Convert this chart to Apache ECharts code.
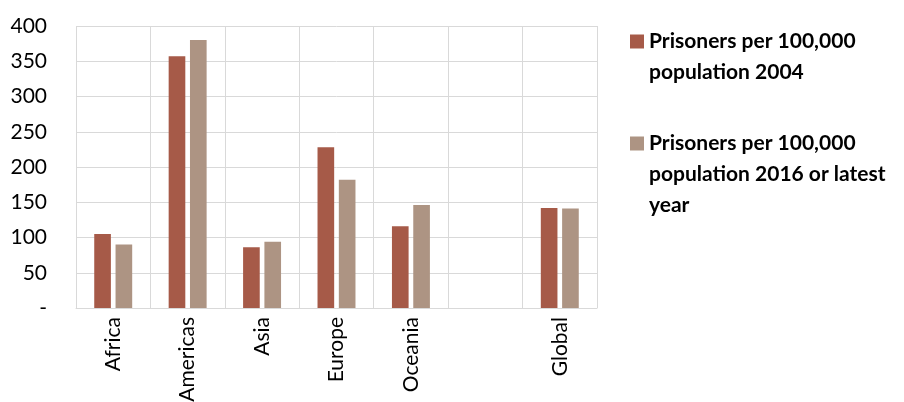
<!DOCTYPE html>
<html>
<head>
<meta charset="utf-8">
<script src="https://cdn.jsdelivr.net/npm/echarts@6/dist/echarts.min.js"></script>
<style>
html,body{margin:0;padding:0;background:#fff;}
#chart{width:904px;height:402px;}
</style>
</head>
<body>
<div id="chart"></div>
<script>
const categories = ['Africa', 'Americas', 'Asia', 'Europe', 'Oceania', '', 'Global'];
const seriesNames = ['Prisoners per 100,000 population 2004', 'Prisoners per 100,000 population 2016 or latest year'];
const prisoners2004 = [105, 357, 86, 228, 116, null, 142];
const prisoners2016 = [90, 380, 94, 182, 146, null, 141];
const yTicks = [0, 50, 100, 150, 200, 250, 300, 350, 400];

const colors = ['#A65A48', '#AD9483'];
const font = 'Lato, "Open Sans", sans-serif';

const legendLines = {};
legendLines[seriesNames[0]] = '{a|}{t|Prisoners per 100,000}\n{s|}{t|population 2004}';
legendLines[seriesNames[1]] = '{b|}{t|Prisoners per 100,000}\n{s|}{t|population 2016 or latest}\n{s|}{t|year}';

const chart = echarts.init(document.getElementById('chart'), null, {renderer: 'canvas'});
chart.setOption({
  animation: false,
  color: colors,
  grid: {left: 76, right: 307, top: 26, bottom: 94, containLabel: false, outerBoundsMode: 'none'},
  legend: {
    orient: 'vertical',
    left: 620,
    top: 21,
    itemWidth: 0,
    itemHeight: 14,
    itemGap: 40,
    icon: 'rect',
    data: seriesNames,
    formatter: function (name) { return legendLines[name]; },
    textStyle: {
      fontFamily: font,
      fontWeight: 'bold',
      fontSize: 21,
      lineHeight: 31,
      color: '#000',
      rich: {
        a: {width: 14, height: 14, backgroundColor: colors[0]},
        b: {width: 14, height: 14, backgroundColor: colors[1]},
        s: {width: 14, height: 14},
        t: {fontFamily: font, fontWeight: 'bold', fontSize: 21, lineHeight: 31, color: '#000', padding: [0, 0, 0, 5]}
      }
    }
  },
  xAxis: {
    type: 'category',
    data: categories,
    axisLine: {show: true, lineStyle: {color: '#D9D9D9', width: 1}},
    axisTick: {show: false},
    splitLine: {show: true, lineStyle: {color: '#D9D9D9', width: 1}},
    axisLabel: {
      interval: 0,
      rotate: 90,
      margin: 9,
      fontFamily: font,
      fontSize: 21,
      color: '#000'
    }
  },
  yAxis: {
    type: 'value',
    min: 0,
    max: 400,
    interval: 50,
    axisLine: {show: false},
    axisTick: {show: false},
    splitLine: {show: true, lineStyle: {color: '#D9D9D9', width: 1}},
    axisLabel: {
      margin: 29,
      fontFamily: font,
      fontSize: 21,
      color: '#000',
      formatter: function (v) { return yTicks.indexOf(v) >= 0 && v === 0 ? '-' : String(v); }
    }
  },
  series: [
    {
      name: seriesNames[0],
      type: 'bar',
      data: prisoners2004,
      barGap: '28%',
      barCategoryGap: '49%',
      itemStyle: {color: colors[0]}
    },
    {
      name: seriesNames[1],
      type: 'bar',
      data: prisoners2016,
      barGap: '28%',
      barCategoryGap: '49%',
      itemStyle: {color: colors[1]}
    }
  ]
});
</script>
</body>
</html>
